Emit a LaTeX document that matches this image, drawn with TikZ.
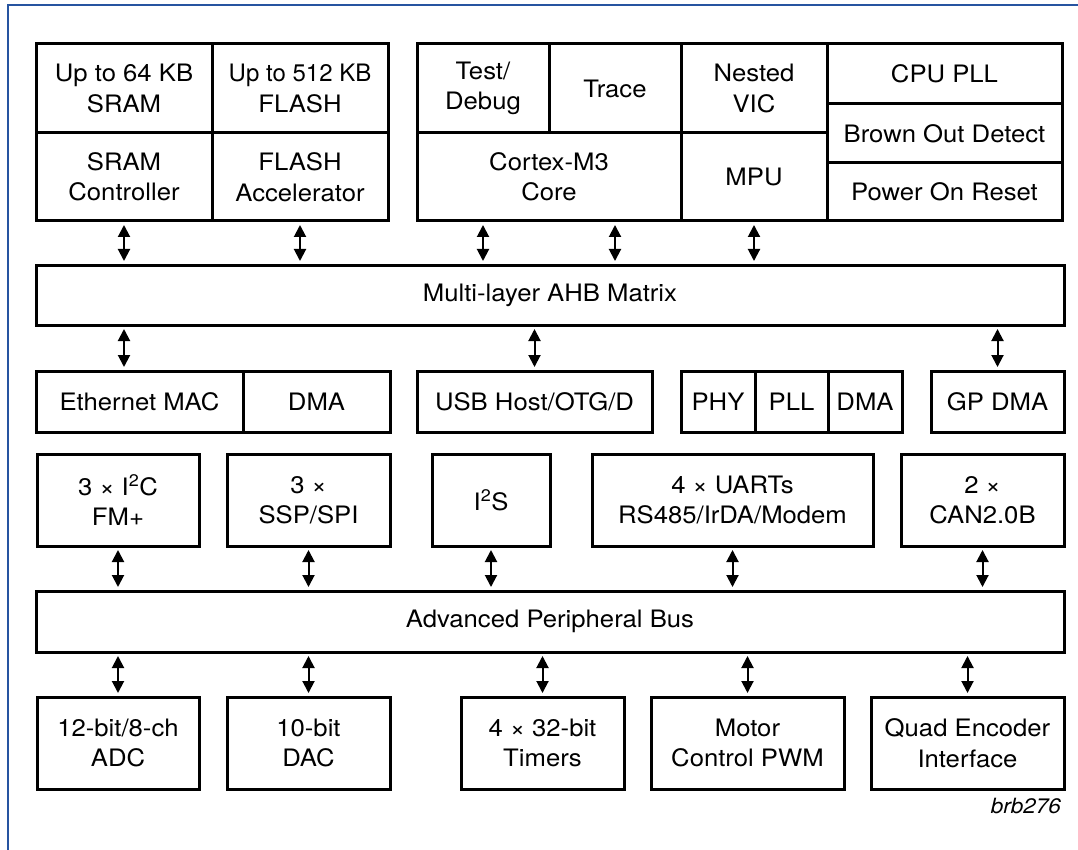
\documentclass[tikz,border=0pt]{standalone}
\usepackage{fontspec}
\setmainfont{TeX Gyre Heros}[FakeStretch=1.07]
\newfontfamily\narrowfont{TeX Gyre Heros}[FakeStretch=1.0]
\usetikzlibrary{arrows.meta}
\definecolor{frameblue}{RGB}{38,84,160}
\begin{document}
\begin{tikzpicture}[x=1pt,y=-1pt,
  cell/.style={draw, line width=3pt, inner sep=0pt, align=center,
    font=\fontsize{24}{30.5}\selectfont},
  bi/.style={line width=2pt, {Triangle[length=12pt,width=12pt]}-{Triangle[length=12pt,width=12pt]},
    shorten >=2.5pt, shorten <=2.5pt}]
\useasboundingbox (0,0) rectangle (1078,850);
\draw[frameblue, line width=2pt] (8,850) -- (8,5.5) -- (1078,5.5);

% top-left block
\node[cell, minimum width=176pt, minimum height=89pt] (sram) at (124,88.5) {Up to 64 KB\\SRAM};
\node[cell, minimum width=176pt, minimum height=89pt] (flash) at (300,88.5) {{\narrowfont Up to 512 KB}\\FLASH};
\node[cell, minimum width=176pt, minimum height=88pt] (sramc) at (124,177) {SRAM\\Controller};
\node[cell, minimum width=176pt, minimum height=88pt] (flashc) at (300,177) {FLASH\\Accelerator};

% top-right block
\node[cell, minimum width=132pt, minimum height=89pt] (test) at (483,88.5) {Test/\\Debug};
\node[cell, minimum width=132pt, minimum height=89pt] (trace) at (615,88.5) {Trace};
\node[cell, minimum width=146pt, minimum height=89pt] (nvic) at (754,88.5) {Nested\\VIC};
\node[cell, minimum width=264pt, minimum height=88pt] (core) at (549,177) {Cortex-M3\\Core};
\node[cell, minimum width=146pt, minimum height=88pt] (mpu) at (754,177) {MPU};
\node[cell, minimum width=235pt, minimum height=60pt] (cpupll) at (944.5,74) {CPU PLL};
\node[cell, minimum width=235pt, minimum height=59pt] (bod) at (944.5,133.5) {Brown Out Detect};
\node[cell, minimum width=235pt, minimum height=58pt] (por) at (944.5,192) {Power On Reset};

% AHB
\node[cell, minimum width=1028pt, minimum height=60pt] (ahb) at (550,295) {Multi-layer AHB Matrix};

% row 3
\node[cell, minimum width=207pt, minimum height=61pt] (eth) at (139.5,401.5) {Ethernet MAC};
\node[cell, minimum width=147pt, minimum height=61pt] (dmaa) at (316.5,401.5) {DMA};
\node[cell, minimum width=235pt, minimum height=61pt] (usb) at (534.5,401.5) {USB Host/OTG/D};
\node[cell, minimum width=74pt, minimum height=61pt] (phy) at (718,401.5) {PHY};
\node[cell, minimum width=73pt, minimum height=61pt] (pll) at (791.5,401.5) {PLL};
\node[cell, minimum width=74pt, minimum height=61pt] (dmab) at (865,401.5) {DMA};
\node[cell, minimum width=133pt, minimum height=61pt] (gpdma) at (997.5,401.5) {GP DMA};

% row 4
\node[cell, minimum width=162pt, minimum height=92pt] (i2c) at (118,500) {3 × I\textsuperscript{2}C\\FM+};
\node[cell, minimum width=163pt, minimum height=92pt] (ssp) at (308.5,500) {3 ×\\SSP/SPI};
\node[cell, minimum width=118pt, minimum height=92pt] (i2s) at (491,500) {I\textsuperscript{2}S};
\node[cell, minimum width=281pt, minimum height=92pt] (uart) at (732.5,500) {4 × UARTs\\RS485/IrDA/Modem};
\node[cell, minimum width=163pt, minimum height=92pt] (can) at (982.5,500) {2 ×\\CAN2.0B};

% APB
\node[cell, minimum width=1028pt, minimum height=61pt] (apb) at (550,621.5) {Advanced Peripheral Bus};

% row 6
\node[cell, minimum width=162pt, minimum height=92pt] (adc) at (118,743) {12-bit/8-ch\\ADC};
\node[cell, minimum width=163pt, minimum height=92pt] (dac) at (308.5,743) {10-bit\\DAC};
\node[cell, minimum width=163pt, minimum height=92pt] (tim) at (542.5,743) {4 × 32-bit\\Timers};
\node[cell, minimum width=193pt, minimum height=92pt] (pwm) at (747.5,743) {Motor\\Control PWM};
\node[cell, minimum width=193pt, minimum height=92pt] (qei) at (967.5,743) {Quad Encoder\\Interface};

\node[anchor=east, inner sep=0pt, font=\fontsize{21}{24}\selectfont\itshape] (ref) at (1061,806) {brb276};

% arrows top -> AHB
\draw[bi] (sramc.south) -- (ahb.north -| sramc.south);
\draw[bi] (flashc.south) -- (ahb.north -| flashc.south);
\draw[bi] (core.south -| test.south) -- (ahb.north -| test.south);
\draw[bi] (core.south -| trace.south) -- (ahb.north -| trace.south);
\draw[bi] (mpu.south) -- (ahb.north -| mpu.south);

% AHB -> row 3
\draw[bi] (ahb.south -| sramc.south) -- (eth.north -| sramc.south);
\draw[bi] (ahb.south -| usb.north) -- (usb.north);
\draw[bi] (ahb.south -| gpdma.north) -- (gpdma.north);

% row 4 -> APB
\foreach \n in {i2c,ssp,i2s,uart,can}
  \draw[bi] (\n.south) -- (apb.north -| \n.south);
% APB -> row 6
\foreach \n in {adc,dac,tim,pwm,qei}
  \draw[bi] (apb.south -| \n.north) -- (\n.north);
\end{tikzpicture}
\end{document}
